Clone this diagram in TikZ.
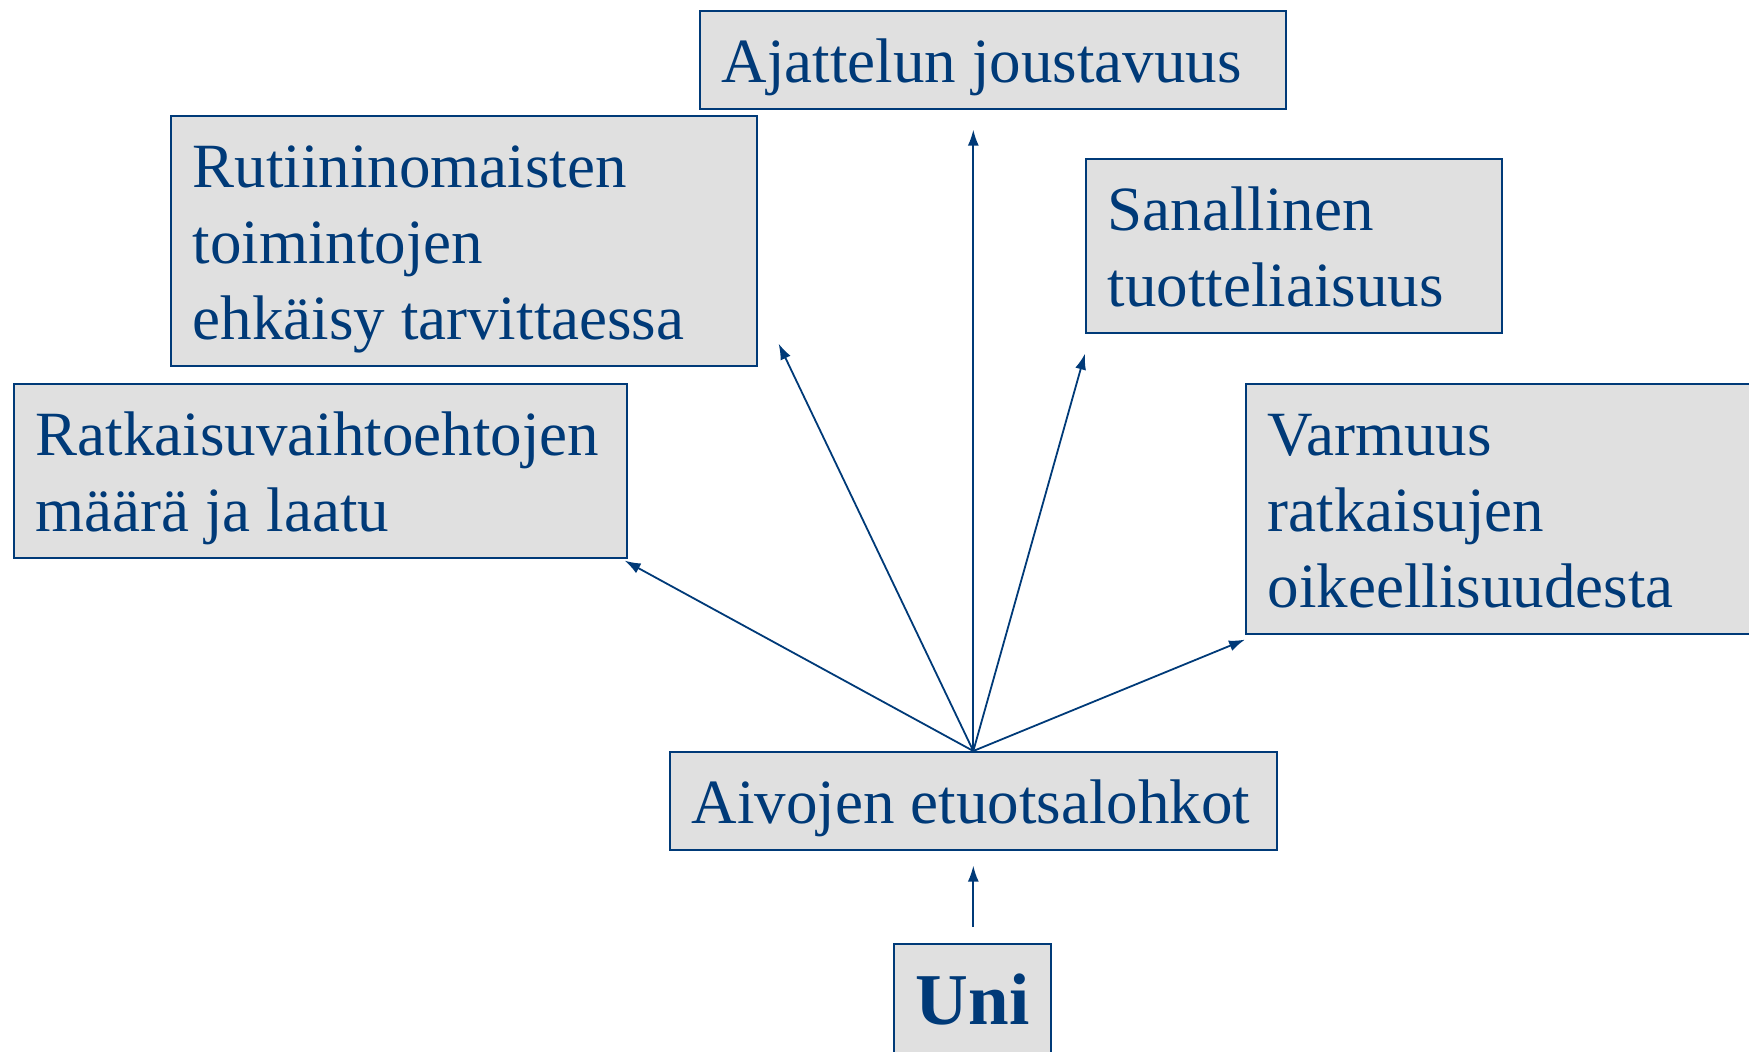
\documentclass[tikz,border=0pt]{standalone}
\usepackage{fontspec}
\setmainfont{Liberation Serif}
\usepackage{tikz}
\usetikzlibrary{arrows.meta}
\definecolor{unisin}{RGB}{0,58,120}
\definecolor{unihar}{RGB}{224,224,224}

\begin{document}
\begin{tikzpicture}[x=1pt, y=-1pt,
        laatikko/.style={draw=unisin, line width=1.6pt, fill=unihar, text=unisin, anchor=north west, align=left,
            inner xsep=22pt, inner ysep=0pt, font=\fontsize{63}{76}\selectfont,
            execute at begin node={\hyphenpenalty=10000\spaceskip=0pt\xspaceskip=0pt\rule{0pt}{72pt}},
            execute at end node={\rule[-26pt]{0pt}{26pt}}},
        nuoli/.style={draw=unisin, line width=1.8pt, -{Latex[length=16pt, width=11pt]}}]
        \useasboundingbox (0,0) rectangle (1749,1052);
        \node[laatikko, text width=542pt] (ajat) at (699,10) {Ajattelun~joustavuus};
        \node[laatikko, text width=542pt] (rut) at (170,115) {Rutiininomaisten\\toimintojen\\ehkäisy~tarvittaessa};
        \node[laatikko, text width=372pt] (sanal) at (1085,158) {Sanallinen\\tuotteliaisuus};
        \node[laatikko, text width=569pt] (ratk) at (13,383) {Ratkaisuvaihtoehtojen\\määrä~ja~laatu};
        \node[laatikko, text width=476pt] (varm) at (1245,383) {Varmuus\\ratkaisujen\\oikeellisuudesta};
        \node[laatikko, text width=563pt] (aiv) at (669,751) {Aivojen~etuotsalohkot};
        \node[laatikko, text width=113pt, align=center, font=\fontsize{73}{80}\selectfont\bfseries,
            execute at begin node={\rule{0pt}{81pt}}, execute at end node={\rule[-40pt]{0pt}{40pt}}] (uni) at (893,943) {Uni};
        \coordinate (ajat-k) at ([yshift=-20pt]aiv.north |- ajat.south);
        \coordinate (rut-k) at ([xshift=21pt, yshift=23pt]rut.south east);
        \coordinate (sanal-k) at ([yshift=-20pt]sanal.south west);
        \coordinate (ratk-k) at ([xshift=-3pt, yshift=-2pt]ratk.south east);
        \coordinate (varm-k) at ([yshift=-5pt]varm.south west);
        \coordinate (uni-k) at ([yshift=16pt]aiv.south |- uni.north);
        \draw[nuoli] (aiv.north) -- (ajat-k);
        \draw[nuoli] (aiv.north) -- (rut-k);
        \draw[nuoli] (aiv.north) -- (sanal-k);
        \draw[nuoli] (aiv.north) -- (ratk-k);
        \draw[nuoli] (aiv.north) -- (varm-k);
        \draw[nuoli] (uni-k) -- ([yshift=-15pt]aiv.south);
    \end{tikzpicture}
\end{document}
